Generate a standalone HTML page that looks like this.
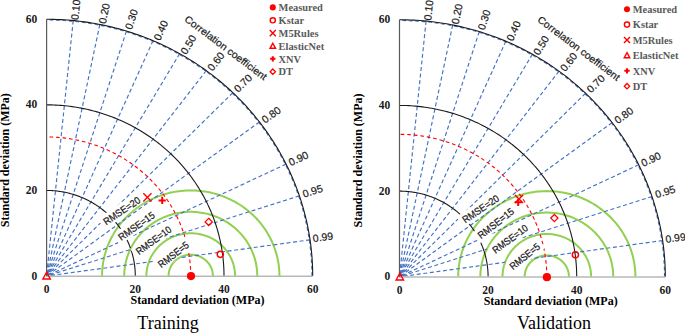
<!DOCTYPE html>
<html><head><meta charset="utf-8"><style>
html,body{margin:0;padding:0;background:#fff;}
svg{display:block;}
</style></head><body>
<svg width="685" height="333" viewBox="0 0 685 333">
<rect width="685" height="333" fill="#fff"/>
<path d="M212.91,276.05 L212.90,275.49 L212.88,274.93 L212.84,274.37 L212.79,273.81 L212.72,273.26 L212.64,272.70 L212.54,272.15 L212.43,271.60 L212.30,271.05 L212.16,270.51 L212.00,269.97 L211.83,269.44 L211.64,268.91 L211.44,268.38 L211.22,267.86 L211.00,267.35 L210.75,266.84 L210.50,266.33 L210.23,265.84 L209.94,265.35 L209.64,264.87 L209.34,264.39 L209.01,263.93 L208.68,263.47 L208.33,263.02 L207.97,262.58 L207.60,262.15 L207.22,261.73 L206.82,261.32 L206.42,260.92 L206.00,260.53 L205.58,260.15 L205.14,259.78 L204.69,259.42 L204.24,259.07 L203.77,258.74 L203.30,258.41 L202.81,258.10 L202.32,257.80 L201.82,257.52 L201.32,257.24 L200.80,256.98 L200.28,256.73 L199.76,256.50 L199.22,256.28 L198.68,256.07 L198.14,255.88 L197.59,255.70 L197.04,255.53 L196.48,255.38 L195.91,255.24 L195.35,255.12 L194.78,255.01 L194.21,254.91 L193.63,254.83 L193.06,254.77 L192.48,254.72 L191.90,254.68 L191.32,254.66 L190.74,254.65 L190.16,254.66 L189.58,254.68 L189.00,254.72 L188.42,254.77 L187.84,254.83 L187.27,254.91 L186.70,255.01 L186.13,255.12 L185.56,255.24 L185.00,255.38 L184.44,255.53 L183.89,255.70 L183.34,255.88 L182.79,256.07 L182.25,256.28 L181.72,256.50 L181.19,256.73 L180.67,256.98 L180.16,257.24 L179.65,257.52 L179.15,257.80 L178.66,258.10 L178.18,258.41 L177.70,258.74 L177.24,259.07 L176.78,259.42 L176.34,259.78 L175.90,260.15 L175.47,260.53 L175.06,260.92 L174.65,261.32 L174.26,261.73 L173.88,262.15 L173.50,262.58 L173.14,263.02 L172.80,263.47 L172.46,263.93 L172.14,264.39 L171.83,264.87 L171.53,265.35 L171.25,265.84 L170.98,266.33 L170.72,266.84 L170.48,267.35 L170.25,267.86 L170.04,268.38 L169.83,268.91 L169.65,269.44 L169.48,269.97 L169.32,270.51 L169.18,271.05 L169.05,271.60 L168.93,272.15 L168.84,272.70 L168.75,273.26 L168.68,273.81 L168.63,274.37 L168.59,274.93 L168.57,275.49 L168.56,276.05" fill="none" stroke="#92d050" stroke-width="2"/>
<path d="M235.09,276.05 L235.07,274.93 L235.03,273.81 L234.95,272.69 L234.84,271.58 L234.71,270.46 L234.54,269.35 L234.34,268.25 L234.12,267.15 L233.86,266.06 L233.58,264.97 L233.26,263.89 L232.92,262.82 L232.54,261.76 L232.14,260.71 L231.71,259.67 L231.25,258.64 L230.77,257.62 L230.25,256.62 L229.71,255.63 L229.15,254.65 L228.55,253.69 L227.93,252.74 L227.29,251.81 L226.62,250.89 L225.92,250.00 L225.20,249.12 L224.46,248.25 L223.70,247.41 L222.91,246.59 L222.10,245.79 L221.27,245.00 L220.41,244.24 L219.54,243.50 L218.65,242.79 L217.74,242.09 L216.81,241.42 L215.86,240.78 L214.89,240.15 L213.91,239.56 L212.91,238.98 L211.90,238.44 L210.87,237.91 L209.83,237.42 L208.78,236.95 L207.71,236.51 L206.63,236.09 L205.54,235.70 L204.44,235.34 L203.33,235.01 L202.22,234.71 L201.09,234.43 L199.96,234.19 L198.82,233.97 L197.68,233.78 L196.53,233.62 L195.37,233.48 L194.22,233.38 L193.06,233.31 L191.90,233.26 L190.74,233.25 L189.58,233.26 L188.42,233.31 L187.26,233.38 L186.10,233.48 L184.95,233.62 L183.80,233.78 L182.66,233.97 L181.52,234.19 L180.38,234.43 L179.26,234.71 L178.14,235.01 L177.03,235.34 L175.93,235.70 L174.84,236.09 L173.77,236.51 L172.70,236.95 L171.64,237.42 L170.60,237.91 L169.58,238.44 L168.56,238.98 L167.56,239.56 L166.58,240.15 L165.62,240.78 L164.67,241.42 L163.74,242.09 L162.83,242.79 L161.93,243.50 L161.06,244.24 L160.21,245.00 L159.38,245.79 L158.57,246.59 L157.78,247.41 L157.01,248.25 L156.27,249.12 L155.55,250.00 L154.86,250.89 L154.19,251.81 L153.54,252.74 L152.92,253.69 L152.33,254.65 L151.76,255.63 L151.22,256.62 L150.71,257.62 L150.22,258.64 L149.76,259.67 L149.33,260.71 L148.93,261.76 L148.56,262.82 L148.21,263.89 L147.90,264.97 L147.61,266.06 L147.36,267.15 L147.13,268.25 L146.93,269.35 L146.77,270.46 L146.63,271.58 L146.52,272.69 L146.45,273.81 L146.40,274.93 L146.39,276.05" fill="none" stroke="#92d050" stroke-width="2"/>
<path d="M257.26,276.05 L257.24,274.37 L257.17,272.69 L257.06,271.01 L256.90,269.34 L256.69,267.67 L256.44,266.01 L256.15,264.35 L255.81,262.70 L255.42,261.06 L255.00,259.43 L254.52,257.82 L254.01,256.21 L253.45,254.62 L252.84,253.04 L252.20,251.48 L251.51,249.94 L250.78,248.41 L250.01,246.90 L249.20,245.42 L248.35,243.95 L247.46,242.51 L246.53,241.08 L245.56,239.69 L244.56,238.31 L243.52,236.97 L242.44,235.65 L241.32,234.36 L240.18,233.09 L238.99,231.86 L237.78,230.65 L236.53,229.48 L235.25,228.34 L233.94,227.23 L232.60,226.16 L231.24,225.12 L229.84,224.11 L228.42,223.14 L226.97,222.21 L225.50,221.31 L224.00,220.45 L222.48,219.63 L220.94,218.85 L219.38,218.10 L217.80,217.40 L216.20,216.74 L214.58,216.11 L212.94,215.53 L211.29,214.99 L209.63,214.49 L207.96,214.04 L206.27,213.62 L204.57,213.25 L202.86,212.93 L201.14,212.64 L199.42,212.40 L197.69,212.20 L195.96,212.05 L194.22,211.94 L192.48,211.87 L190.74,211.85 L189.00,211.87 L187.26,211.94 L185.52,212.05 L183.78,212.20 L182.05,212.40 L180.33,212.64 L178.61,212.93 L176.91,213.25 L175.21,213.62 L173.52,214.04 L171.84,214.49 L170.18,214.99 L168.53,215.53 L166.90,216.11 L165.28,216.74 L163.68,217.40 L162.10,218.10 L160.54,218.85 L158.99,219.63 L157.47,220.45 L155.98,221.31 L154.51,222.21 L153.06,223.14 L151.64,224.11 L150.24,225.12 L148.87,226.16 L147.53,227.23 L146.22,228.34 L144.94,229.48 L143.70,230.65 L142.48,231.86 L141.30,233.09 L140.15,234.36 L139.04,235.65 L137.96,236.97 L136.92,238.31 L135.91,239.69 L134.94,241.08 L134.02,242.51 L133.13,243.95 L132.27,245.42 L131.46,246.90 L130.69,248.41 L129.96,249.94 L129.28,251.48 L128.63,253.04 L128.03,254.62 L127.47,256.21 L126.95,257.82 L126.48,259.43 L126.05,261.06 L125.67,262.70 L125.33,264.35 L125.03,266.01 L124.78,267.67 L124.58,269.34 L124.42,271.01 L124.30,272.69 L124.24,274.37 L124.21,276.05" fill="none" stroke="#92d050" stroke-width="2"/>
<path d="M279.44,276.05 L279.41,273.81 L279.32,271.57 L279.16,269.33 L278.95,267.10 L278.68,264.88 L278.35,262.66 L277.95,260.45 L277.50,258.25 L276.99,256.07 L276.42,253.90 L275.78,251.74 L275.10,249.60 L274.35,247.48 L273.55,245.37 L272.69,243.29 L271.77,241.23 L270.80,239.20 L269.77,237.19 L268.69,235.21 L267.55,233.25 L266.37,231.32 L265.13,229.43 L263.84,227.57 L262.50,225.74 L261.11,223.94 L259.67,222.18 L258.19,220.46 L256.65,218.77 L255.08,217.13 L253.46,215.52 L251.79,213.96 L250.09,212.44 L248.34,210.96 L246.56,209.53 L244.73,208.14 L242.87,206.80 L240.98,205.50 L239.05,204.26 L237.08,203.06 L235.09,201.92 L233.06,200.82 L231.01,199.78 L228.92,198.79 L226.82,197.85 L224.68,196.97 L222.52,196.14 L220.35,195.36 L218.15,194.64 L215.93,193.98 L213.69,193.37 L211.44,192.82 L209.18,192.32 L206.90,191.88 L204.61,191.50 L202.32,191.18 L200.01,190.92 L197.70,190.71 L195.38,190.57 L193.06,190.48 L190.74,190.45 L188.42,190.48 L186.10,190.57 L183.78,190.71 L181.47,190.92 L179.16,191.18 L176.86,191.50 L174.57,191.88 L172.30,192.32 L170.03,192.82 L167.78,193.37 L165.55,193.98 L163.33,194.64 L161.13,195.36 L158.95,196.14 L156.79,196.97 L154.66,197.85 L152.55,198.79 L150.47,199.78 L148.41,200.82 L146.39,201.92 L144.39,203.06 L142.43,204.26 L140.50,205.50 L138.60,206.80 L136.74,208.14 L134.92,209.53 L133.13,210.96 L131.39,212.44 L129.68,213.96 L128.02,215.52 L126.40,217.13 L124.82,218.77 L123.29,220.46 L121.80,222.18 L120.37,223.94 L118.98,225.74 L117.64,227.57 L116.35,229.43 L115.11,231.32 L113.92,233.25 L112.79,235.21 L111.71,237.19 L110.68,239.20 L109.71,241.23 L108.79,243.29 L107.93,245.37 L107.13,247.48 L106.38,249.60 L105.69,251.74 L105.06,253.90 L104.49,256.07 L103.98,258.25 L103.52,260.45 L103.13,262.66 L102.80,264.88 L102.52,267.10 L102.31,269.33 L102.16,271.57 L102.07,273.81 L102.04,276.05" fill="none" stroke="#92d050" stroke-width="2"/>
<line x1="73.21" y1="20.54" x2="46.60" y2="276.05" stroke="#4472c4" stroke-width="1.15" stroke-dasharray="4 2.6"/>
<line x1="99.82" y1="24.44" x2="46.60" y2="276.05" stroke="#4472c4" stroke-width="1.15" stroke-dasharray="4 2.6"/>
<line x1="126.43" y1="31.08" x2="46.60" y2="276.05" stroke="#4472c4" stroke-width="1.15" stroke-dasharray="4 2.6"/>
<line x1="153.04" y1="40.69" x2="46.60" y2="276.05" stroke="#4472c4" stroke-width="1.15" stroke-dasharray="4 2.6"/>
<line x1="179.65" y1="53.65" x2="46.60" y2="276.05" stroke="#4472c4" stroke-width="1.15" stroke-dasharray="4 2.6"/>
<line x1="206.26" y1="70.61" x2="46.60" y2="276.05" stroke="#4472c4" stroke-width="1.15" stroke-dasharray="4 2.6"/>
<line x1="232.87" y1="92.66" x2="46.60" y2="276.05" stroke="#4472c4" stroke-width="1.15" stroke-dasharray="4 2.6"/>
<line x1="259.48" y1="121.97" x2="46.60" y2="276.05" stroke="#4472c4" stroke-width="1.15" stroke-dasharray="4 2.6"/>
<line x1="286.09" y1="164.11" x2="46.60" y2="276.05" stroke="#4472c4" stroke-width="1.15" stroke-dasharray="4 2.6"/>
<line x1="299.39" y1="195.86" x2="46.60" y2="276.05" stroke="#4472c4" stroke-width="1.15" stroke-dasharray="4 2.6"/>
<line x1="310.04" y1="239.82" x2="46.60" y2="276.05" stroke="#4472c4" stroke-width="1.15" stroke-dasharray="4 2.6"/>
<path d="M311.90,276.05 L311.88,272.70 L311.81,269.35 L311.70,266.00 L311.54,262.65 L311.33,259.30 L311.08,255.96 L310.79,252.62 L310.45,249.29 L310.06,245.96 L309.63,242.63 L309.16,239.31 L308.64,236.00 L308.07,232.69 L307.46,229.39 L306.80,226.10 L306.10,222.82 L305.36,219.54 L304.57,216.28 L303.74,213.03 L302.86,209.78 L301.94,206.55 L300.98,203.33 L299.97,200.13 L298.92,196.93 L297.82,193.75 L296.68,190.59 L295.50,187.43 L294.28,184.30 L293.01,181.18 L291.71,178.07 L290.36,174.98 L288.97,171.91 L287.53,168.86 L286.06,165.83 L284.54,162.81 L282.99,159.81 L281.39,156.84 L279.75,153.88 L278.07,150.95 L276.36,148.04 L274.60,145.14 L272.81,142.27 L270.97,139.43 L269.10,136.61 L267.19,133.81 L265.24,131.03 L263.26,128.28 L261.23,125.56 L259.17,122.86 L257.08,120.19 L254.95,117.54 L252.78,114.93 L250.58,112.33 L248.34,109.77 L246.06,107.24 L243.76,104.73 L241.42,102.26 L239.04,99.81 L236.64,97.39 L234.20,95.01 L231.72,92.66 L229.22,90.33 L226.69,88.04 L224.12,85.78 L221.53,83.56 L218.90,81.36 L216.24,79.20 L213.56,77.08 L210.85,74.99 L208.11,72.93 L205.34,70.91 L202.54,68.92 L199.72,66.97 L196.87,65.05 L193.99,63.17 L191.09,61.33 L188.17,59.52 L185.22,57.75 L182.25,56.02 L179.25,54.32 L176.23,52.67 L173.19,51.05 L170.13,49.47 L167.04,47.93 L163.94,46.42 L160.82,44.96 L157.67,43.54 L154.51,42.16 L151.33,40.81 L148.13,39.51 L144.91,38.25 L141.68,37.03 L138.43,35.85 L135.16,34.71 L131.88,33.61 L128.58,32.55 L125.27,31.54 L121.95,30.56 L118.61,29.63 L115.27,28.74 L111.90,27.90 L108.53,27.09 L105.15,26.33 L101.76,25.62 L98.36,24.94 L94.95,24.31 L91.53,23.72 L88.10,23.17 L84.67,22.67 L81.23,22.21 L77.78,21.80 L74.33,21.42 L70.88,21.09 L67.42,20.81 L63.95,20.57 L60.48,20.37 L57.02,20.22 L53.54,20.11 L50.07,20.04 L46.60,20.02" fill="none" stroke="#4472c4" stroke-width="1.1" stroke-dasharray="3.7 2.8"/>
<path d="M135.30,276.05 L135.29,274.93 L135.27,273.81 L135.23,272.69 L135.18,271.57 L135.11,270.45 L135.03,269.33 L134.93,268.22 L134.81,267.10 L134.69,265.99 L134.54,264.88 L134.38,263.77 L134.21,262.66 L134.02,261.55 L133.81,260.45 L133.60,259.35 L133.36,258.25 L133.11,257.16 L132.85,256.07 L132.57,254.98 L132.28,253.90 L131.97,252.81 L131.65,251.74 L131.31,250.67 L130.96,249.60 L130.59,248.53 L130.21,247.48 L129.82,246.42 L129.41,245.37 L128.99,244.33 L128.55,243.29 L128.10,242.26 L127.63,241.23 L127.15,240.21 L126.66,239.20 L126.15,238.19 L125.63,237.19 L125.10,236.19 L124.55,235.21 L123.99,234.22 L123.42,233.25 L122.83,232.28 L122.23,231.32 L121.62,230.37 L120.99,229.43 L120.35,228.49 L119.70,227.57 L119.04,226.65 L118.36,225.74 L117.67,224.83 L116.97,223.94 L116.26,223.06 L115.53,222.18 L114.80,221.31 L114.05,220.46 L113.29,219.61 L112.52,218.77 L111.73,217.94 L110.94,217.13 L110.14,216.32 L109.32,215.52 L108.49,214.73 L107.66,213.96 L106.81,213.19 L105.95,212.44 L105.08,211.69 L104.21,210.96 L103.32,210.24 L102.42,209.53 L101.51,208.83 L100.60,208.14 L99.67,207.46 L98.74,206.80 L97.79,206.15 L96.84,205.50 L95.88,204.88 L94.91,204.26 L93.93,203.66 L92.95,203.06 L91.95,202.48 L90.95,201.92 L89.94,201.36 L88.92,200.82 L87.90,200.30 L86.87,199.78 L85.83,199.28 L84.79,198.79 L83.74,198.31 L82.68,197.85 L81.61,197.40 L80.54,196.97 L79.47,196.54 L78.39,196.14 L77.30,195.74 L76.21,195.36 L75.11,194.99 L74.01,194.64 L72.90,194.30 L71.79,193.98 L70.68,193.66 L69.56,193.37 L68.43,193.08 L67.31,192.82 L66.18,192.56 L65.04,192.32 L63.90,192.09 L62.76,191.88 L61.62,191.69 L60.48,191.50 L59.33,191.34 L58.18,191.18 L57.03,191.04 L55.87,190.92 L54.72,190.81 L53.56,190.71 L52.40,190.63 L51.24,190.57 L50.08,190.52 L48.92,190.48 L47.76,190.46 L46.60,190.45" fill="none" stroke="#1a1a1a" stroke-width="1.1"/>
<path d="M224.00,276.05 L223.98,273.81 L223.94,271.57 L223.86,269.33 L223.76,267.09 L223.62,264.85 L223.45,262.62 L223.26,260.38 L223.03,258.15 L222.77,255.93 L222.48,253.70 L222.16,251.48 L221.82,249.27 L221.44,247.06 L221.03,244.85 L220.59,242.65 L220.12,240.46 L219.63,238.27 L219.10,236.08 L218.54,233.91 L217.96,231.74 L217.34,229.58 L216.69,227.43 L216.02,225.28 L215.32,223.15 L214.59,221.02 L213.82,218.90 L213.04,216.79 L212.22,214.70 L211.37,212.61 L210.50,210.53 L209.59,208.47 L208.66,206.42 L207.70,204.38 L206.72,202.35 L205.71,200.33 L204.66,198.33 L203.60,196.34 L202.50,194.36 L201.38,192.40 L200.23,190.45 L199.06,188.52 L197.86,186.60 L196.63,184.70 L195.38,182.81 L194.10,180.94 L192.80,179.08 L191.47,177.24 L190.12,175.42 L188.74,173.62 L187.34,171.83 L185.92,170.06 L184.47,168.31 L182.99,166.58 L181.50,164.86 L179.98,163.17 L178.43,161.49 L176.87,159.84 L175.28,158.20 L173.67,156.59 L172.04,154.99 L170.39,153.42 L168.71,151.87 L167.02,150.33 L165.30,148.82 L163.57,147.34 L161.81,145.87 L160.04,144.42 L158.24,143.00 L156.43,141.60 L154.59,140.23 L152.74,138.88 L150.87,137.55 L148.99,136.24 L147.08,134.96 L145.16,133.70 L143.22,132.47 L141.26,131.26 L139.29,130.08 L137.30,128.92 L135.30,127.79 L133.28,126.68 L131.25,125.60 L129.20,124.54 L127.14,123.51 L125.06,122.51 L122.97,121.53 L120.87,120.58 L118.76,119.65 L116.63,118.75 L114.49,117.88 L112.34,117.04 L110.17,116.22 L108.00,115.43 L105.82,114.67 L103.62,113.94 L101.42,113.23 L99.21,112.55 L96.98,111.90 L94.75,111.28 L92.51,110.68 L90.27,110.12 L88.01,109.58 L85.75,109.07 L83.48,108.59 L81.21,108.14 L78.93,107.72 L76.64,107.32 L74.35,106.96 L72.06,106.62 L69.76,106.31 L67.45,106.04 L65.14,105.79 L62.83,105.57 L60.52,105.38 L58.20,105.22 L55.88,105.08 L53.56,104.98 L51.24,104.91 L48.92,104.86 L46.60,104.85" fill="none" stroke="#1a1a1a" stroke-width="1.1"/>
<path d="M312.70,276.05 L312.68,272.69 L312.61,269.33 L312.49,265.97 L312.34,262.61 L312.13,259.25 L311.88,255.90 L311.58,252.55 L311.24,249.21 L310.86,245.87 L310.42,242.53 L309.95,239.20 L309.42,235.88 L308.86,232.56 L308.24,229.25 L307.59,225.95 L306.89,222.66 L306.14,219.37 L305.35,216.10 L304.51,212.84 L303.63,209.59 L302.71,206.34 L301.74,203.11 L300.73,199.90 L299.68,196.69 L298.58,193.50 L297.44,190.33 L296.25,187.17 L295.03,184.02 L293.76,180.89 L292.44,177.78 L291.09,174.68 L289.69,171.60 L288.26,168.54 L286.78,165.49 L285.26,162.47 L283.70,159.47 L282.10,156.48 L280.45,153.52 L278.77,150.57 L277.05,147.65 L275.29,144.75 L273.49,141.87 L271.65,139.02 L269.77,136.19 L267.85,133.38 L265.90,130.60 L263.91,127.84 L261.88,125.11 L259.81,122.40 L257.71,119.72 L255.57,117.07 L253.40,114.44 L251.19,111.84 L248.94,109.27 L246.66,106.73 L244.35,104.22 L242.00,101.73 L239.62,99.28 L237.21,96.86 L234.76,94.46 L232.28,92.10 L229.77,89.77 L227.23,87.48 L224.66,85.21 L222.05,82.98 L219.42,80.78 L216.75,78.61 L214.06,76.48 L211.34,74.38 L208.59,72.32 L205.81,70.29 L203.01,68.29 L200.18,66.34 L197.32,64.41 L194.44,62.53 L191.53,60.68 L188.59,58.87 L185.64,57.09 L182.66,55.35 L179.65,53.65 L176.62,51.99 L173.57,50.37 L170.50,48.79 L167.41,47.24 L164.29,45.73 L161.16,44.27 L158.01,42.84 L154.83,41.45 L151.64,40.10 L148.43,38.80 L145.21,37.53 L141.96,36.31 L138.70,35.12 L135.43,33.98 L132.14,32.88 L128.83,31.82 L125.51,30.80 L122.18,29.83 L118.83,28.89 L115.47,28.00 L112.10,27.15 L108.72,26.35 L105.33,25.58 L101.93,24.86 L98.51,24.18 L95.09,23.55 L91.66,22.96 L88.23,22.41 L84.78,21.91 L81.33,21.45 L77.88,21.03 L74.42,20.66 L70.95,20.33 L67.48,20.04 L64.00,19.80 L60.53,19.60 L57.05,19.45 L53.57,19.34 L50.08,19.27 L46.60,19.25" fill="none" stroke="#1a1a1a" stroke-width="1.1"/>
<path d="M190.74,276.05 L190.73,274.23 L190.69,272.41 L190.63,270.59 L190.54,268.77 L190.43,266.95 L190.29,265.14 L190.13,263.32 L189.95,261.51 L189.74,259.70 L189.50,257.89 L189.25,256.09 L188.96,254.29 L188.66,252.49 L188.32,250.70 L187.97,248.91 L187.59,247.13 L187.18,245.35 L186.75,243.58 L186.30,241.81 L185.83,240.05 L185.33,238.29 L184.80,236.54 L184.25,234.80 L183.68,233.07 L183.09,231.34 L182.47,229.62 L181.83,227.91 L181.16,226.20 L180.48,224.51 L179.77,222.82 L179.03,221.14 L178.28,219.47 L177.50,217.81 L176.70,216.17 L175.87,214.53 L175.03,212.90 L174.16,211.28 L173.27,209.68 L172.36,208.08 L171.43,206.50 L170.47,204.93 L169.50,203.37 L168.50,201.82 L167.48,200.29 L166.45,198.77 L165.39,197.26 L164.31,195.77 L163.21,194.29 L162.09,192.82 L160.95,191.37 L159.79,189.93 L158.62,188.51 L157.42,187.10 L156.20,185.71 L154.97,184.33 L153.72,182.97 L152.44,181.63 L151.15,180.30 L149.85,178.99 L148.52,177.69 L147.18,176.41 L145.82,175.15 L144.44,173.91 L143.05,172.68 L141.64,171.47 L140.21,170.28 L138.77,169.10 L137.31,167.95 L135.83,166.81 L134.35,165.69 L132.84,164.60 L131.32,163.52 L129.79,162.46 L128.24,161.41 L126.68,160.39 L125.10,159.39 L123.51,158.41 L121.91,157.45 L120.30,156.51 L118.67,155.59 L117.03,154.69 L115.38,153.81 L113.71,152.95 L112.04,152.11 L110.35,151.30 L108.65,150.50 L106.94,149.73 L105.23,148.98 L103.50,148.25 L101.76,147.54 L100.01,146.85 L98.25,146.19 L96.49,145.55 L94.71,144.93 L92.93,144.33 L91.14,143.76 L89.34,143.21 L87.54,142.68 L85.72,142.17 L83.91,141.69 L82.08,141.23 L80.25,140.79 L78.41,140.38 L76.57,139.99 L74.72,139.62 L72.87,139.28 L71.01,138.96 L69.15,138.66 L67.28,138.39 L65.41,138.14 L63.54,137.91 L61.67,137.71 L59.79,137.53 L57.91,137.38 L56.03,137.25 L54.14,137.14 L52.26,137.06 L50.37,137.00 L48.49,136.96 L46.60,136.95" fill="none" stroke="#ff0000" stroke-width="1.1" stroke-dasharray="3.7 2.85" stroke-dashoffset="0.21"/>
<line x1="46.60" y1="276.25" x2="312.70" y2="276.25" stroke="#b8b8b8" stroke-width="1.4"/>
<line x1="46.60" y1="276.05" x2="46.60" y2="19.25" stroke="#595959" stroke-width="1.2"/>
<rect fill="#fff" x="-3.5" y="-10.5" width="49.0" height="13" transform="translate(106.3 225.5) rotate(-34)"/>
<rect fill="#fff" x="-3.5" y="-10.5" width="49.0" height="13" transform="translate(121.3 241) rotate(-35)"/>
<rect fill="#fff" x="-3.5" y="-10.5" width="48.2" height="13" transform="translate(139.0 255.3) rotate(-36)"/>
<rect fill="#fff" x="-3.5" y="-10.5" width="42.8" height="13" transform="translate(161.3 268.3) rotate(-37.5)"/>
<clipPath id="cl"><rect x="-3.5" y="-10.5" width="49.0" height="13" transform="translate(106.3 225.5) rotate(-34)"/><rect x="-3.5" y="-10.5" width="49.0" height="13" transform="translate(121.3 241) rotate(-35)"/><rect x="-3.5" y="-10.5" width="48.2" height="13" transform="translate(139.0 255.3) rotate(-36)"/><rect x="-3.5" y="-10.5" width="42.8" height="13" transform="translate(161.3 268.3) rotate(-37.5)"/></clipPath>
<g clip-path="url(#cl)">
<path d="M212.91,276.05 L212.90,275.49 L212.88,274.93 L212.84,274.37 L212.79,273.81 L212.72,273.26 L212.64,272.70 L212.54,272.15 L212.43,271.60 L212.30,271.05 L212.16,270.51 L212.00,269.97 L211.83,269.44 L211.64,268.91 L211.44,268.38 L211.22,267.86 L211.00,267.35 L210.75,266.84 L210.50,266.33 L210.23,265.84 L209.94,265.35 L209.64,264.87 L209.34,264.39 L209.01,263.93 L208.68,263.47 L208.33,263.02 L207.97,262.58 L207.60,262.15 L207.22,261.73 L206.82,261.32 L206.42,260.92 L206.00,260.53 L205.58,260.15 L205.14,259.78 L204.69,259.42 L204.24,259.07 L203.77,258.74 L203.30,258.41 L202.81,258.10 L202.32,257.80 L201.82,257.52 L201.32,257.24 L200.80,256.98 L200.28,256.73 L199.76,256.50 L199.22,256.28 L198.68,256.07 L198.14,255.88 L197.59,255.70 L197.04,255.53 L196.48,255.38 L195.91,255.24 L195.35,255.12 L194.78,255.01 L194.21,254.91 L193.63,254.83 L193.06,254.77 L192.48,254.72 L191.90,254.68 L191.32,254.66 L190.74,254.65 L190.16,254.66 L189.58,254.68 L189.00,254.72 L188.42,254.77 L187.84,254.83 L187.27,254.91 L186.70,255.01 L186.13,255.12 L185.56,255.24 L185.00,255.38 L184.44,255.53 L183.89,255.70 L183.34,255.88 L182.79,256.07 L182.25,256.28 L181.72,256.50 L181.19,256.73 L180.67,256.98 L180.16,257.24 L179.65,257.52 L179.15,257.80 L178.66,258.10 L178.18,258.41 L177.70,258.74 L177.24,259.07 L176.78,259.42 L176.34,259.78 L175.90,260.15 L175.47,260.53 L175.06,260.92 L174.65,261.32 L174.26,261.73 L173.88,262.15 L173.50,262.58 L173.14,263.02 L172.80,263.47 L172.46,263.93 L172.14,264.39 L171.83,264.87 L171.53,265.35 L171.25,265.84 L170.98,266.33 L170.72,266.84 L170.48,267.35 L170.25,267.86 L170.04,268.38 L169.83,268.91 L169.65,269.44 L169.48,269.97 L169.32,270.51 L169.18,271.05 L169.05,271.60 L168.93,272.15 L168.84,272.70 L168.75,273.26 L168.68,273.81 L168.63,274.37 L168.59,274.93 L168.57,275.49 L168.56,276.05" fill="none" stroke="#92d050" stroke-width="2"/>
<path d="M235.09,276.05 L235.07,274.93 L235.03,273.81 L234.95,272.69 L234.84,271.58 L234.71,270.46 L234.54,269.35 L234.34,268.25 L234.12,267.15 L233.86,266.06 L233.58,264.97 L233.26,263.89 L232.92,262.82 L232.54,261.76 L232.14,260.71 L231.71,259.67 L231.25,258.64 L230.77,257.62 L230.25,256.62 L229.71,255.63 L229.15,254.65 L228.55,253.69 L227.93,252.74 L227.29,251.81 L226.62,250.89 L225.92,250.00 L225.20,249.12 L224.46,248.25 L223.70,247.41 L222.91,246.59 L222.10,245.79 L221.27,245.00 L220.41,244.24 L219.54,243.50 L218.65,242.79 L217.74,242.09 L216.81,241.42 L215.86,240.78 L214.89,240.15 L213.91,239.56 L212.91,238.98 L211.90,238.44 L210.87,237.91 L209.83,237.42 L208.78,236.95 L207.71,236.51 L206.63,236.09 L205.54,235.70 L204.44,235.34 L203.33,235.01 L202.22,234.71 L201.09,234.43 L199.96,234.19 L198.82,233.97 L197.68,233.78 L196.53,233.62 L195.37,233.48 L194.22,233.38 L193.06,233.31 L191.90,233.26 L190.74,233.25 L189.58,233.26 L188.42,233.31 L187.26,233.38 L186.10,233.48 L184.95,233.62 L183.80,233.78 L182.66,233.97 L181.52,234.19 L180.38,234.43 L179.26,234.71 L178.14,235.01 L177.03,235.34 L175.93,235.70 L174.84,236.09 L173.77,236.51 L172.70,236.95 L171.64,237.42 L170.60,237.91 L169.58,238.44 L168.56,238.98 L167.56,239.56 L166.58,240.15 L165.62,240.78 L164.67,241.42 L163.74,242.09 L162.83,242.79 L161.93,243.50 L161.06,244.24 L160.21,245.00 L159.38,245.79 L158.57,246.59 L157.78,247.41 L157.01,248.25 L156.27,249.12 L155.55,250.00 L154.86,250.89 L154.19,251.81 L153.54,252.74 L152.92,253.69 L152.33,254.65 L151.76,255.63 L151.22,256.62 L150.71,257.62 L150.22,258.64 L149.76,259.67 L149.33,260.71 L148.93,261.76 L148.56,262.82 L148.21,263.89 L147.90,264.97 L147.61,266.06 L147.36,267.15 L147.13,268.25 L146.93,269.35 L146.77,270.46 L146.63,271.58 L146.52,272.69 L146.45,273.81 L146.40,274.93 L146.39,276.05" fill="none" stroke="#92d050" stroke-width="2"/>
<path d="M257.26,276.05 L257.24,274.37 L257.17,272.69 L257.06,271.01 L256.90,269.34 L256.69,267.67 L256.44,266.01 L256.15,264.35 L255.81,262.70 L255.42,261.06 L255.00,259.43 L254.52,257.82 L254.01,256.21 L253.45,254.62 L252.84,253.04 L252.20,251.48 L251.51,249.94 L250.78,248.41 L250.01,246.90 L249.20,245.42 L248.35,243.95 L247.46,242.51 L246.53,241.08 L245.56,239.69 L244.56,238.31 L243.52,236.97 L242.44,235.65 L241.32,234.36 L240.18,233.09 L238.99,231.86 L237.78,230.65 L236.53,229.48 L235.25,228.34 L233.94,227.23 L232.60,226.16 L231.24,225.12 L229.84,224.11 L228.42,223.14 L226.97,222.21 L225.50,221.31 L224.00,220.45 L222.48,219.63 L220.94,218.85 L219.38,218.10 L217.80,217.40 L216.20,216.74 L214.58,216.11 L212.94,215.53 L211.29,214.99 L209.63,214.49 L207.96,214.04 L206.27,213.62 L204.57,213.25 L202.86,212.93 L201.14,212.64 L199.42,212.40 L197.69,212.20 L195.96,212.05 L194.22,211.94 L192.48,211.87 L190.74,211.85 L189.00,211.87 L187.26,211.94 L185.52,212.05 L183.78,212.20 L182.05,212.40 L180.33,212.64 L178.61,212.93 L176.91,213.25 L175.21,213.62 L173.52,214.04 L171.84,214.49 L170.18,214.99 L168.53,215.53 L166.90,216.11 L165.28,216.74 L163.68,217.40 L162.10,218.10 L160.54,218.85 L158.99,219.63 L157.47,220.45 L155.98,221.31 L154.51,222.21 L153.06,223.14 L151.64,224.11 L150.24,225.12 L148.87,226.16 L147.53,227.23 L146.22,228.34 L144.94,229.48 L143.70,230.65 L142.48,231.86 L141.30,233.09 L140.15,234.36 L139.04,235.65 L137.96,236.97 L136.92,238.31 L135.91,239.69 L134.94,241.08 L134.02,242.51 L133.13,243.95 L132.27,245.42 L131.46,246.90 L130.69,248.41 L129.96,249.94 L129.28,251.48 L128.63,253.04 L128.03,254.62 L127.47,256.21 L126.95,257.82 L126.48,259.43 L126.05,261.06 L125.67,262.70 L125.33,264.35 L125.03,266.01 L124.78,267.67 L124.58,269.34 L124.42,271.01 L124.30,272.69 L124.24,274.37 L124.21,276.05" fill="none" stroke="#92d050" stroke-width="2"/>
<path d="M279.44,276.05 L279.41,273.81 L279.32,271.57 L279.16,269.33 L278.95,267.10 L278.68,264.88 L278.35,262.66 L277.95,260.45 L277.50,258.25 L276.99,256.07 L276.42,253.90 L275.78,251.74 L275.10,249.60 L274.35,247.48 L273.55,245.37 L272.69,243.29 L271.77,241.23 L270.80,239.20 L269.77,237.19 L268.69,235.21 L267.55,233.25 L266.37,231.32 L265.13,229.43 L263.84,227.57 L262.50,225.74 L261.11,223.94 L259.67,222.18 L258.19,220.46 L256.65,218.77 L255.08,217.13 L253.46,215.52 L251.79,213.96 L250.09,212.44 L248.34,210.96 L246.56,209.53 L244.73,208.14 L242.87,206.80 L240.98,205.50 L239.05,204.26 L237.08,203.06 L235.09,201.92 L233.06,200.82 L231.01,199.78 L228.92,198.79 L226.82,197.85 L224.68,196.97 L222.52,196.14 L220.35,195.36 L218.15,194.64 L215.93,193.98 L213.69,193.37 L211.44,192.82 L209.18,192.32 L206.90,191.88 L204.61,191.50 L202.32,191.18 L200.01,190.92 L197.70,190.71 L195.38,190.57 L193.06,190.48 L190.74,190.45 L188.42,190.48 L186.10,190.57 L183.78,190.71 L181.47,190.92 L179.16,191.18 L176.86,191.50 L174.57,191.88 L172.30,192.32 L170.03,192.82 L167.78,193.37 L165.55,193.98 L163.33,194.64 L161.13,195.36 L158.95,196.14 L156.79,196.97 L154.66,197.85 L152.55,198.79 L150.47,199.78 L148.41,200.82 L146.39,201.92 L144.39,203.06 L142.43,204.26 L140.50,205.50 L138.60,206.80 L136.74,208.14 L134.92,209.53 L133.13,210.96 L131.39,212.44 L129.68,213.96 L128.02,215.52 L126.40,217.13 L124.82,218.77 L123.29,220.46 L121.80,222.18 L120.37,223.94 L118.98,225.74 L117.64,227.57 L116.35,229.43 L115.11,231.32 L113.92,233.25 L112.79,235.21 L111.71,237.19 L110.68,239.20 L109.71,241.23 L108.79,243.29 L107.93,245.37 L107.13,247.48 L106.38,249.60 L105.69,251.74 L105.06,253.90 L104.49,256.07 L103.98,258.25 L103.52,260.45 L103.13,262.66 L102.80,264.88 L102.52,267.10 L102.31,269.33 L102.16,271.57 L102.07,273.81 L102.04,276.05" fill="none" stroke="#92d050" stroke-width="2"/>
</g>
<text transform="translate(106.3 225.5) rotate(-34)" x="0" y="0" font-family="'Liberation Sans', sans-serif" font-size="10" fill="#1a1a1a" stroke="#1a1a1a" stroke-width="0.25" textLength="42.0" lengthAdjust="spacingAndGlyphs">RMSE=20</text>
<text transform="translate(121.3 241) rotate(-35)" x="0" y="0" font-family="'Liberation Sans', sans-serif" font-size="10" fill="#1a1a1a" stroke="#1a1a1a" stroke-width="0.25" textLength="42.0" lengthAdjust="spacingAndGlyphs">RMSE=15</text>
<text transform="translate(139.0 255.3) rotate(-36)" x="0" y="0" font-family="'Liberation Sans', sans-serif" font-size="10" fill="#1a1a1a" stroke="#1a1a1a" stroke-width="0.25" textLength="41.2" lengthAdjust="spacingAndGlyphs">RMSE=10</text>
<text transform="translate(161.3 268.3) rotate(-37.5)" x="0" y="0" font-family="'Liberation Sans', sans-serif" font-size="10" fill="#1a1a1a" stroke="#1a1a1a" stroke-width="0.25" textLength="35.8" lengthAdjust="spacingAndGlyphs">RMSE=5</text>
<text x="74.60" y="19.85" transform="rotate(-84.05 74.60 19.85)" font-family="'Liberation Sans', sans-serif" font-size="10.5" fill="#1a1a1a" stroke="#1a1a1a" stroke-width="0.2" dy="3.7">0.10</text>
<text x="102.02" y="23.41" transform="rotate(-78.06 102.02 23.41)" font-family="'Liberation Sans', sans-serif" font-size="10.5" fill="#1a1a1a" stroke="#1a1a1a" stroke-width="0.2" dy="3.7">0.20</text>
<text x="128.22" y="28.99" transform="rotate(-71.95 128.22 28.99)" font-family="'Liberation Sans', sans-serif" font-size="10.5" fill="#1a1a1a" stroke="#1a1a1a" stroke-width="0.2" dy="3.7">0.30</text>
<text x="156.54" y="39.62" transform="rotate(-65.67 156.54 39.62)" font-family="'Liberation Sans', sans-serif" font-size="10.5" fill="#1a1a1a" stroke="#1a1a1a" stroke-width="0.2" dy="3.7">0.40</text>
<text x="183.11" y="53.47" transform="rotate(-59.11 183.11 53.47)" font-family="'Liberation Sans', sans-serif" font-size="10.5" fill="#1a1a1a" stroke="#1a1a1a" stroke-width="0.2" dy="3.7">0.50</text>
<text x="209.70" y="69.50" transform="rotate(-52.15 209.70 69.50)" font-family="'Liberation Sans', sans-serif" font-size="10.5" fill="#1a1a1a" stroke="#1a1a1a" stroke-width="0.2" dy="3.7">0.60</text>
<text x="235.77" y="90.28" transform="rotate(-44.55 235.77 90.28)" font-family="'Liberation Sans', sans-serif" font-size="10.5" fill="#1a1a1a" stroke="#1a1a1a" stroke-width="0.2" dy="3.7">0.70</text>
<text x="262.96" y="120.72" transform="rotate(-35.90 262.96 120.72)" font-family="'Liberation Sans', sans-serif" font-size="10.5" fill="#1a1a1a" stroke="#1a1a1a" stroke-width="0.2" dy="3.7">0.80</text>
<text x="289.17" y="162.91" transform="rotate(-25.05 289.17 162.91)" font-family="'Liberation Sans', sans-serif" font-size="10.5" fill="#1a1a1a" stroke="#1a1a1a" stroke-width="0.2" dy="3.7">0.90</text>
<text x="302.90" y="194.12" transform="rotate(-17.60 302.90 194.12)" font-family="'Liberation Sans', sans-serif" font-size="10.5" fill="#1a1a1a" stroke="#1a1a1a" stroke-width="0.2" dy="3.7">0.95</text>
<text x="312.85" y="238.51" transform="rotate(-7.83 312.85 238.51)" font-family="'Liberation Sans', sans-serif" font-size="10.5" fill="#1a1a1a" stroke="#1a1a1a" stroke-width="0.2" dy="3.7">0.99</text>
<text x="223.8" y="50.5" transform="rotate(37 223.8 50.5)" font-family="'Liberation Sans', sans-serif" font-size="10" fill="#1a1a1a" stroke="#1a1a1a" stroke-width="0.2" text-anchor="middle" textLength="100" lengthAdjust="spacingAndGlyphs">Correlation coefficient</text>
<text x="37.30" y="279.55" text-anchor="end" font-family="'Liberation Serif', serif" font-weight="bold" font-size="11.5" fill="#1a1a1a">0</text>
<text x="37.30" y="193.95" text-anchor="end" font-family="'Liberation Serif', serif" font-weight="bold" font-size="11.5" fill="#1a1a1a">20</text>
<text x="37.30" y="108.35" text-anchor="end" font-family="'Liberation Serif', serif" font-weight="bold" font-size="11.5" fill="#1a1a1a">40</text>
<text x="37.30" y="22.75" text-anchor="end" font-family="'Liberation Serif', serif" font-weight="bold" font-size="11.5" fill="#1a1a1a">60</text>
<text x="46.60" y="292.85" text-anchor="middle" font-family="'Liberation Serif', serif" font-weight="bold" font-size="11.5" fill="#1a1a1a">0</text>
<text x="135.30" y="292.85" text-anchor="middle" font-family="'Liberation Serif', serif" font-weight="bold" font-size="11.5" fill="#1a1a1a">20</text>
<text x="224.00" y="292.85" text-anchor="middle" font-family="'Liberation Serif', serif" font-weight="bold" font-size="11.5" fill="#1a1a1a">40</text>
<text x="312.70" y="292.85" text-anchor="middle" font-family="'Liberation Serif', serif" font-weight="bold" font-size="11.5" fill="#1a1a1a">60</text>
<text x="197.5" y="304" text-anchor="middle" font-family="'Liberation Serif', serif" font-weight="bold" font-size="12" fill="#000">Standard deviation (MPa)</text>
<text x="9.3" y="160.2" transform="rotate(-90 9.3 160.2)" text-anchor="middle" font-family="'Liberation Serif', serif" font-weight="bold" font-size="12" fill="#000">Standard deviation (MPa)</text>
<text x="168" y="328.9" text-anchor="middle" font-family="'Liberation Serif', serif" font-size="18" fill="#000">Training</text>
<circle cx="272.80" cy="7.40" r="3.03" fill="#ff0000"/>
<text x="278.6" y="11.10" font-family="'Liberation Serif', serif" font-weight="bold" font-size="10.4" fill="#595959">Measured</text>
<circle cx="272.80" cy="20.26" r="2.60" fill="none" stroke="#ff0000" stroke-width="1.45"/>
<text x="278.6" y="23.96" font-family="'Liberation Serif', serif" font-weight="bold" font-size="10.4" fill="#595959">Kstar</text>
<path d="M269.77,30.09 L275.83,36.15 M269.77,36.15 L275.83,30.09" stroke="#ff0000" stroke-width="1.4"/>
<text x="278.6" y="36.82" font-family="'Liberation Serif', serif" font-weight="bold" font-size="10.4" fill="#595959">M5Rules</text>
<path d="M272.80,43.24 L275.54,48.31 L270.06,48.31 Z" fill="none" stroke="#ff0000" stroke-width="1.4" stroke-linejoin="miter"/>
<text x="278.6" y="49.68" font-family="'Liberation Serif', serif" font-weight="bold" font-size="10.4" fill="#595959">ElasticNet</text>
<path d="M270.14,58.84 L275.46,58.84 M272.80,56.18 L272.80,61.50" stroke="#ff0000" stroke-width="2"/>
<text x="278.6" y="62.54" font-family="'Liberation Serif', serif" font-weight="bold" font-size="10.4" fill="#595959">XNV</text>
<path d="M272.80,69.04 L275.46,71.70 L272.80,74.36 L270.14,71.70 Z" fill="none" stroke="#ff0000" stroke-width="1.3"/>
<text x="278.6" y="75.40" font-family="'Liberation Serif', serif" font-weight="bold" font-size="10.4" fill="#595959">DT</text>
<circle cx="191.00" cy="276.05" r="4.10" fill="#ff0000"/>
<circle cx="220.30" cy="254.30" r="3.10" fill="none" stroke="#ff0000" stroke-width="1.45"/>
<path d="M143.30,193.30 L151.50,201.50 M143.30,201.50 L151.50,193.30" stroke="#ff0000" stroke-width="1.4"/>
<path d="M46.60,272.20 L50.30,279.04 L42.90,279.04 Z" fill="none" stroke="#ff0000" stroke-width="1.4" stroke-linejoin="miter"/>
<path d="M158.60,200.40 L165.80,200.40 M162.20,196.80 L162.20,204.00" stroke="#ff0000" stroke-width="2"/>
<path d="M208.70,218.30 L212.30,221.90 L208.70,225.50 L205.10,221.90 Z" fill="none" stroke="#ff0000" stroke-width="1.3"/>
<path d="M568.95,276.80 L568.94,276.24 L568.92,275.68 L568.88,275.12 L568.83,274.56 L568.76,274.00 L568.67,273.45 L568.58,272.90 L568.46,272.35 L568.34,271.80 L568.19,271.26 L568.04,270.72 L567.86,270.18 L567.68,269.65 L567.48,269.12 L567.26,268.60 L567.03,268.09 L566.79,267.58 L566.53,267.08 L566.26,266.58 L565.98,266.09 L565.68,265.61 L565.37,265.13 L565.05,264.67 L564.72,264.21 L564.37,263.76 L564.01,263.32 L563.64,262.89 L563.26,262.47 L562.86,262.06 L562.46,261.65 L562.04,261.26 L561.62,260.88 L561.18,260.51 L560.74,260.15 L560.28,259.81 L559.82,259.47 L559.34,259.15 L558.86,258.84 L558.37,258.54 L557.87,258.25 L557.37,257.98 L556.85,257.71 L556.33,257.47 L555.81,257.23 L555.27,257.01 L554.74,256.80 L554.19,256.61 L553.64,256.43 L553.09,256.26 L552.53,256.11 L551.97,255.97 L551.40,255.85 L550.83,255.74 L550.26,255.64 L549.69,255.56 L549.11,255.50 L548.54,255.45 L547.96,255.41 L547.38,255.39 L546.80,255.38 L546.22,255.39 L545.64,255.41 L545.06,255.45 L544.48,255.50 L543.91,255.56 L543.33,255.64 L542.76,255.74 L542.19,255.85 L541.63,255.97 L541.06,256.11 L540.51,256.26 L539.95,256.43 L539.40,256.61 L538.86,256.80 L538.32,257.01 L537.79,257.23 L537.26,257.47 L536.74,257.71 L536.23,257.98 L535.72,258.25 L535.22,258.54 L534.73,258.84 L534.25,259.15 L533.78,259.47 L533.31,259.81 L532.86,260.15 L532.41,260.51 L531.98,260.88 L531.55,261.26 L531.14,261.65 L530.73,262.06 L530.34,262.47 L529.95,262.89 L529.58,263.32 L529.22,263.76 L528.88,264.21 L528.54,264.67 L528.22,265.13 L527.91,265.61 L527.62,266.09 L527.33,266.58 L527.06,267.08 L526.81,267.58 L526.56,268.09 L526.33,268.60 L526.12,269.12 L525.92,269.65 L525.73,270.18 L525.56,270.72 L525.40,271.26 L525.26,271.80 L525.13,272.35 L525.02,272.90 L524.92,273.45 L524.84,274.00 L524.77,274.56 L524.72,275.12 L524.68,275.68 L524.66,276.24 L524.65,276.80" fill="none" stroke="#92d050" stroke-width="2"/>
<path d="M591.10,276.80 L591.08,275.68 L591.04,274.56 L590.96,273.44 L590.85,272.32 L590.72,271.21 L590.55,270.10 L590.36,268.99 L590.13,267.89 L589.87,266.80 L589.59,265.71 L589.27,264.63 L588.93,263.56 L588.56,262.50 L588.16,261.45 L587.73,260.41 L587.27,259.38 L586.78,258.36 L586.27,257.35 L585.73,256.36 L585.16,255.38 L584.57,254.42 L583.95,253.47 L583.31,252.54 L582.64,251.62 L581.94,250.72 L581.23,249.84 L580.48,248.98 L579.72,248.13 L578.93,247.31 L578.12,246.51 L577.29,245.72 L576.44,244.96 L575.57,244.22 L574.68,243.51 L573.77,242.81 L572.84,242.14 L571.89,241.49 L570.93,240.87 L569.94,240.27 L568.95,239.70 L567.94,239.15 L566.91,238.63 L565.87,238.13 L564.82,237.66 L563.75,237.22 L562.67,236.81 L561.59,236.42 L560.49,236.06 L559.38,235.72 L558.26,235.42 L557.14,235.14 L556.01,234.90 L554.87,234.68 L553.73,234.49 L552.58,234.33 L551.43,234.19 L550.27,234.09 L549.12,234.02 L547.96,233.97 L546.80,233.96 L545.64,233.97 L544.48,234.02 L543.32,234.09 L542.17,234.19 L541.02,234.33 L539.87,234.49 L538.72,234.68 L537.59,234.90 L536.46,235.14 L535.33,235.42 L534.22,235.72 L533.11,236.06 L532.01,236.42 L530.92,236.81 L529.84,237.22 L528.78,237.66 L527.73,238.13 L526.69,238.63 L525.66,239.15 L524.65,239.70 L523.65,240.27 L522.67,240.87 L521.71,241.49 L520.76,242.14 L519.83,242.81 L518.92,243.51 L518.03,244.22 L517.16,244.96 L516.30,245.72 L515.47,246.51 L514.66,247.31 L513.88,248.13 L513.11,248.98 L512.37,249.84 L511.65,250.72 L510.96,251.62 L510.29,252.54 L509.64,253.47 L509.03,254.42 L508.43,255.38 L507.87,256.36 L507.33,257.35 L506.81,258.36 L506.33,259.38 L505.87,260.41 L505.44,261.45 L505.04,262.50 L504.67,263.56 L504.32,264.63 L504.01,265.71 L503.72,266.80 L503.47,267.89 L503.24,268.99 L503.04,270.10 L502.88,271.21 L502.74,272.32 L502.63,273.44 L502.56,274.56 L502.51,275.68 L502.50,276.80" fill="none" stroke="#92d050" stroke-width="2"/>
<path d="M613.25,276.80 L613.22,275.12 L613.16,273.44 L613.04,271.76 L612.88,270.08 L612.68,268.41 L612.43,266.75 L612.13,265.09 L611.80,263.44 L611.41,261.80 L610.98,260.17 L610.51,258.55 L610.00,256.94 L609.44,255.35 L608.83,253.77 L608.19,252.21 L607.50,250.66 L606.77,249.14 L606.00,247.63 L605.19,246.14 L604.34,244.67 L603.46,243.22 L602.53,241.80 L601.56,240.40 L600.56,239.03 L599.52,237.68 L598.44,236.36 L597.33,235.07 L596.18,233.80 L595.00,232.57 L593.78,231.36 L592.54,230.19 L591.26,229.05 L589.95,227.94 L588.62,226.86 L587.25,225.82 L585.86,224.81 L584.44,223.84 L582.99,222.91 L581.52,222.01 L580.02,221.15 L578.50,220.33 L576.97,219.54 L575.40,218.80 L573.83,218.10 L572.23,217.43 L570.61,216.81 L568.98,216.23 L567.33,215.69 L565.67,215.19 L564.00,214.73 L562.31,214.32 L560.61,213.94 L558.91,213.62 L557.19,213.33 L555.47,213.09 L553.74,212.89 L552.01,212.74 L550.28,212.63 L548.54,212.56 L546.80,212.54 L545.06,212.56 L543.32,212.63 L541.58,212.74 L539.85,212.89 L538.12,213.09 L536.40,213.33 L534.69,213.62 L532.98,213.94 L531.29,214.32 L529.60,214.73 L527.92,215.19 L526.26,215.69 L524.62,216.23 L522.98,216.81 L521.37,217.43 L519.77,218.10 L518.19,218.80 L516.63,219.54 L515.09,220.33 L513.57,221.15 L512.08,222.01 L510.61,222.91 L509.16,223.84 L507.74,224.81 L506.35,225.82 L504.98,226.86 L503.64,227.94 L502.33,229.05 L501.06,230.19 L499.81,231.36 L498.60,232.57 L497.42,233.80 L496.27,235.07 L495.16,236.36 L494.08,237.68 L493.04,239.03 L492.03,240.40 L491.07,241.80 L490.14,243.22 L489.25,244.67 L488.40,246.14 L487.59,247.63 L486.82,249.14 L486.09,250.66 L485.41,252.21 L484.76,253.77 L484.16,255.35 L483.60,256.94 L483.08,258.55 L482.61,260.17 L482.18,261.80 L481.80,263.44 L481.46,265.09 L481.17,266.75 L480.92,268.41 L480.71,270.08 L480.55,271.76 L480.44,273.44 L480.37,275.12 L480.35,276.80" fill="none" stroke="#92d050" stroke-width="2"/>
<path d="M635.40,276.80 L635.37,274.56 L635.28,272.32 L635.12,270.08 L634.91,267.84 L634.64,265.62 L634.31,263.40 L633.91,261.19 L633.46,258.99 L632.95,256.80 L632.38,254.62 L631.75,252.47 L631.06,250.32 L630.32,248.20 L629.51,246.10 L628.65,244.01 L627.74,241.95 L626.77,239.91 L625.74,237.90 L624.66,235.92 L623.53,233.96 L622.34,232.03 L621.10,230.14 L619.82,228.27 L618.48,226.44 L617.09,224.64 L615.65,222.88 L614.17,221.16 L612.64,219.47 L611.07,217.82 L609.45,216.22 L607.79,214.65 L606.08,213.13 L604.34,211.65 L602.56,210.21 L600.73,208.83 L598.88,207.48 L596.98,206.19 L595.05,204.94 L593.09,203.75 L591.10,202.60 L589.07,201.50 L587.02,200.46 L584.94,199.47 L582.83,198.53 L580.70,197.64 L578.55,196.81 L576.37,196.03 L574.18,195.31 L571.96,194.65 L569.73,194.04 L567.48,193.49 L565.22,192.99 L562.94,192.55 L560.66,192.17 L558.36,191.85 L556.06,191.59 L553.75,191.38 L551.43,191.24 L549.12,191.15 L546.80,191.12 L544.48,191.15 L542.16,191.24 L539.85,191.38 L537.54,191.59 L535.23,191.85 L532.94,192.17 L530.65,192.55 L528.38,192.99 L526.11,193.49 L523.87,194.04 L521.63,194.65 L519.42,195.31 L517.22,196.03 L515.05,196.81 L512.89,197.64 L510.76,198.53 L508.65,199.47 L506.57,200.46 L504.52,201.50 L502.50,202.60 L500.50,203.75 L498.54,204.94 L496.61,206.19 L494.72,207.48 L492.86,208.83 L491.04,210.21 L489.26,211.65 L487.51,213.13 L485.81,214.65 L484.15,216.22 L482.53,217.82 L480.95,219.47 L479.43,221.16 L477.94,222.88 L476.51,224.64 L475.12,226.44 L473.78,228.27 L472.49,230.14 L471.25,232.03 L470.07,233.96 L468.93,235.92 L467.85,237.90 L466.83,239.91 L465.86,241.95 L464.94,244.01 L464.08,246.10 L463.28,248.20 L462.53,250.32 L461.85,252.47 L461.22,254.62 L460.65,256.80 L460.13,258.99 L459.68,261.19 L459.29,263.40 L458.96,265.62 L458.68,267.84 L458.47,270.08 L458.32,272.32 L458.23,274.56 L458.20,276.80" fill="none" stroke="#92d050" stroke-width="2"/>
<line x1="426.08" y1="21.05" x2="399.50" y2="276.80" stroke="#4472c4" stroke-width="1.15" stroke-dasharray="4 2.6"/>
<line x1="452.66" y1="24.95" x2="399.50" y2="276.80" stroke="#4472c4" stroke-width="1.15" stroke-dasharray="4 2.6"/>
<line x1="479.24" y1="31.60" x2="399.50" y2="276.80" stroke="#4472c4" stroke-width="1.15" stroke-dasharray="4 2.6"/>
<line x1="505.82" y1="41.22" x2="399.50" y2="276.80" stroke="#4472c4" stroke-width="1.15" stroke-dasharray="4 2.6"/>
<line x1="532.40" y1="54.20" x2="399.50" y2="276.80" stroke="#4472c4" stroke-width="1.15" stroke-dasharray="4 2.6"/>
<line x1="558.98" y1="71.17" x2="399.50" y2="276.80" stroke="#4472c4" stroke-width="1.15" stroke-dasharray="4 2.6"/>
<line x1="585.56" y1="93.24" x2="399.50" y2="276.80" stroke="#4472c4" stroke-width="1.15" stroke-dasharray="4 2.6"/>
<line x1="612.14" y1="122.58" x2="399.50" y2="276.80" stroke="#4472c4" stroke-width="1.15" stroke-dasharray="4 2.6"/>
<line x1="638.72" y1="164.76" x2="399.50" y2="276.80" stroke="#4472c4" stroke-width="1.15" stroke-dasharray="4 2.6"/>
<line x1="652.01" y1="196.54" x2="399.50" y2="276.80" stroke="#4472c4" stroke-width="1.15" stroke-dasharray="4 2.6"/>
<line x1="662.64" y1="240.54" x2="399.50" y2="276.80" stroke="#4472c4" stroke-width="1.15" stroke-dasharray="4 2.6"/>
<path d="M664.50,276.80 L664.48,273.45 L664.41,270.09 L664.30,266.74 L664.14,263.39 L663.94,260.04 L663.69,256.69 L663.39,253.35 L663.05,250.01 L662.67,246.68 L662.24,243.35 L661.76,240.03 L661.24,236.71 L660.67,233.40 L660.07,230.10 L659.41,226.80 L658.71,223.52 L657.97,220.24 L657.18,216.98 L656.35,213.72 L655.47,210.47 L654.55,207.24 L653.59,204.02 L652.58,200.81 L651.53,197.61 L650.44,194.43 L649.30,191.26 L648.12,188.10 L646.90,184.96 L645.64,181.84 L644.33,178.73 L642.98,175.64 L641.59,172.57 L640.16,169.51 L638.69,166.47 L637.17,163.46 L635.62,160.46 L634.02,157.48 L632.39,154.52 L630.71,151.58 L629.00,148.67 L627.24,145.77 L625.45,142.90 L623.62,140.05 L621.75,137.23 L619.84,134.42 L617.90,131.65 L615.91,128.90 L613.89,126.17 L611.83,123.47 L609.74,120.79 L607.61,118.15 L605.45,115.52 L603.25,112.93 L601.01,110.37 L598.74,107.83 L596.44,105.32 L594.10,102.84 L591.73,100.40 L589.32,97.98 L586.89,95.59 L584.42,93.23 L581.92,90.91 L579.38,88.62 L576.82,86.36 L574.23,84.13 L571.61,81.93 L568.95,79.77 L566.27,77.64 L563.56,75.55 L560.82,73.49 L558.06,71.46 L555.26,69.47 L552.44,67.52 L549.60,65.60 L546.73,63.72 L543.83,61.87 L540.91,60.07 L537.96,58.29 L534.99,56.56 L532.00,54.86 L528.99,53.21 L525.95,51.59 L522.89,50.01 L519.81,48.46 L516.71,46.96 L513.59,45.50 L510.45,44.07 L507.29,42.69 L504.11,41.34 L500.91,40.04 L497.70,38.78 L494.47,37.55 L491.22,36.37 L487.96,35.23 L484.68,34.13 L481.39,33.07 L478.08,32.06 L474.76,31.08 L471.43,30.15 L468.09,29.26 L464.73,28.42 L461.36,27.61 L457.99,26.85 L454.60,26.13 L451.20,25.46 L447.79,24.82 L444.38,24.23 L440.96,23.69 L437.53,23.18 L434.09,22.72 L430.65,22.31 L427.20,21.93 L423.75,21.61 L420.29,21.32 L416.83,21.08 L413.37,20.88 L409.90,20.73 L406.44,20.62 L402.97,20.55 L399.50,20.53" fill="none" stroke="#4472c4" stroke-width="1.1" stroke-dasharray="3.7 2.8"/>
<path d="M488.10,276.80 L488.09,275.68 L488.07,274.56 L488.03,273.44 L487.98,272.32 L487.91,271.20 L487.83,270.08 L487.73,268.96 L487.61,267.84 L487.49,266.73 L487.34,265.62 L487.18,264.51 L487.01,263.40 L486.82,262.29 L486.62,261.19 L486.40,260.08 L486.16,258.99 L485.92,257.89 L485.65,256.80 L485.37,255.71 L485.08,254.62 L484.77,253.54 L484.45,252.47 L484.11,251.39 L483.76,250.32 L483.40,249.26 L483.02,248.20 L482.62,247.14 L482.22,246.10 L481.79,245.05 L481.36,244.01 L480.90,242.98 L480.44,241.95 L479.96,240.93 L479.47,239.91 L478.96,238.90 L478.44,237.90 L477.91,236.91 L477.36,235.92 L476.80,234.93 L476.23,233.96 L475.64,232.99 L475.04,232.03 L474.43,231.08 L473.81,230.14 L473.17,229.20 L472.52,228.27 L471.85,227.35 L471.18,226.44 L470.49,225.54 L469.79,224.64 L469.08,223.76 L468.36,222.88 L467.62,222.01 L466.87,221.16 L466.11,220.31 L465.34,219.47 L464.56,218.64 L463.77,217.82 L462.96,217.01 L462.15,216.22 L461.32,215.43 L460.49,214.65 L459.64,213.88 L458.78,213.13 L457.92,212.38 L457.04,211.65 L456.15,210.93 L455.26,210.21 L454.35,209.51 L453.44,208.83 L452.51,208.15 L451.58,207.48 L450.64,206.83 L449.68,206.19 L448.72,205.56 L447.76,204.94 L446.78,204.34 L445.79,203.75 L444.80,203.17 L443.80,202.60 L442.79,202.04 L441.78,201.50 L440.75,200.97 L439.72,200.46 L438.69,199.96 L437.64,199.47 L436.59,198.99 L435.54,198.53 L434.47,198.08 L433.41,197.64 L432.33,197.22 L431.25,196.81 L430.17,196.42 L429.08,196.03 L427.98,195.67 L426.88,195.31 L425.77,194.97 L424.66,194.65 L423.55,194.34 L422.43,194.04 L421.31,193.76 L420.18,193.49 L419.05,193.23 L417.92,192.99 L416.79,192.77 L415.65,192.55 L414.50,192.36 L413.36,192.17 L412.21,192.01 L411.06,191.85 L409.91,191.71 L408.76,191.59 L407.61,191.48 L406.45,191.38 L405.29,191.30 L404.14,191.24 L402.98,191.19 L401.82,191.15 L400.66,191.13 L399.50,191.12" fill="none" stroke="#1a1a1a" stroke-width="1.1"/>
<path d="M576.70,276.80 L576.68,274.56 L576.64,272.31 L576.56,270.07 L576.46,267.83 L576.32,265.59 L576.15,263.36 L575.96,261.12 L575.73,258.89 L575.47,256.66 L575.18,254.43 L574.87,252.21 L574.52,249.99 L574.14,247.78 L573.73,245.57 L573.30,243.37 L572.83,241.17 L572.33,238.98 L571.80,236.80 L571.25,234.62 L570.66,232.45 L570.05,230.29 L569.40,228.13 L568.73,225.98 L568.03,223.85 L567.30,221.72 L566.54,219.60 L565.75,217.49 L564.93,215.39 L564.09,213.30 L563.21,211.22 L562.31,209.16 L561.38,207.10 L560.42,205.06 L559.44,203.03 L558.43,201.01 L557.39,199.00 L556.32,197.01 L555.23,195.03 L554.11,193.07 L552.96,191.12 L551.79,189.18 L550.59,187.26 L549.36,185.36 L548.11,183.47 L546.84,181.60 L545.54,179.74 L544.21,177.90 L542.86,176.08 L541.48,174.27 L540.08,172.48 L538.66,170.71 L537.21,168.96 L535.74,167.23 L534.24,165.51 L532.73,163.81 L531.19,162.14 L529.62,160.48 L528.04,158.84 L526.43,157.23 L524.80,155.63 L523.15,154.05 L521.48,152.50 L519.78,150.97 L518.07,149.45 L516.34,147.96 L514.58,146.50 L512.81,145.05 L511.02,143.63 L509.20,142.23 L507.37,140.85 L505.52,139.50 L503.66,138.17 L501.77,136.86 L499.87,135.58 L497.95,134.32 L496.01,133.09 L494.06,131.88 L492.09,130.69 L490.10,129.53 L488.10,128.40 L486.08,127.29 L484.05,126.21 L482.01,125.15 L479.95,124.12 L477.87,123.11 L475.79,122.13 L473.69,121.18 L471.57,120.25 L469.45,119.36 L467.31,118.48 L465.16,117.64 L463.00,116.82 L460.83,116.03 L458.65,115.27 L456.46,114.53 L454.26,113.83 L452.05,113.15 L449.83,112.50 L447.60,111.87 L445.36,111.28 L443.12,110.71 L440.87,110.17 L438.61,109.67 L436.34,109.18 L434.07,108.73 L431.79,108.31 L429.51,107.92 L427.22,107.55 L424.93,107.21 L422.63,106.91 L420.33,106.63 L418.02,106.38 L415.71,106.16 L413.40,105.97 L411.09,105.81 L408.77,105.67 L406.46,105.57 L404.14,105.50 L401.82,105.45 L399.50,105.44" fill="none" stroke="#1a1a1a" stroke-width="1.1"/>
<path d="M665.30,276.80 L665.28,273.44 L665.21,270.07 L665.10,266.71 L664.94,263.35 L664.73,259.99 L664.48,256.63 L664.18,253.28 L663.84,249.93 L663.46,246.59 L663.03,243.25 L662.55,239.92 L662.03,236.59 L661.46,233.27 L660.85,229.96 L660.19,226.65 L659.49,223.36 L658.75,220.07 L657.96,216.80 L657.12,213.53 L656.24,210.27 L655.32,207.03 L654.35,203.80 L653.34,200.58 L652.29,197.37 L651.19,194.18 L650.05,191.00 L648.87,187.83 L647.65,184.69 L646.38,181.55 L645.07,178.44 L643.71,175.34 L642.32,172.25 L640.88,169.19 L639.41,166.14 L637.89,163.11 L636.33,160.11 L634.73,157.12 L633.09,154.15 L631.41,151.20 L629.69,148.28 L627.93,145.38 L626.13,142.50 L624.29,139.64 L622.42,136.81 L620.50,134.00 L618.55,131.21 L616.56,128.45 L614.54,125.72 L612.47,123.01 L610.37,120.32 L608.24,117.67 L606.07,115.04 L603.86,112.44 L601.62,109.87 L599.34,107.32 L597.03,104.81 L594.68,102.32 L592.30,99.87 L589.89,97.44 L587.45,95.05 L584.97,92.68 L582.46,90.35 L579.93,88.05 L577.35,85.78 L574.75,83.55 L572.12,81.35 L569.46,79.18 L566.77,77.04 L564.06,74.94 L561.31,72.88 L558.53,70.85 L555.73,68.85 L552.91,66.89 L550.05,64.97 L547.17,63.08 L544.27,61.23 L541.33,59.41 L538.38,57.64 L535.40,55.90 L532.40,54.20 L529.38,52.53 L526.33,50.91 L523.26,49.32 L520.17,47.78 L517.06,46.27 L513.93,44.80 L510.78,43.37 L507.61,41.98 L504.42,40.63 L501.22,39.33 L497.99,38.06 L494.75,36.83 L491.50,35.65 L488.23,34.50 L484.94,33.40 L481.64,32.34 L478.32,31.32 L474.99,30.34 L471.65,29.41 L468.29,28.52 L464.93,27.67 L461.55,26.86 L458.16,26.10 L454.76,25.38 L451.36,24.70 L447.94,24.06 L444.51,23.47 L441.08,22.92 L437.64,22.42 L434.19,21.96 L430.74,21.54 L427.28,21.17 L423.82,20.84 L420.35,20.55 L416.88,20.31 L413.41,20.11 L409.94,19.96 L406.46,19.85 L402.98,19.78 L399.50,19.76" fill="none" stroke="#1a1a1a" stroke-width="1.1"/>
<path d="M546.80,276.80 L546.78,274.94 L546.75,273.07 L546.68,271.21 L546.60,269.35 L546.48,267.48 L546.34,265.62 L546.18,263.77 L545.99,261.91 L545.78,260.06 L545.54,258.21 L545.27,256.36 L544.98,254.52 L544.67,252.68 L544.33,250.84 L543.97,249.01 L543.58,247.18 L543.17,245.36 L542.73,243.55 L542.27,241.74 L541.78,239.93 L541.27,238.14 L540.73,236.34 L540.17,234.56 L539.59,232.78 L538.98,231.01 L538.35,229.25 L537.69,227.50 L537.01,225.75 L536.31,224.02 L535.59,222.29 L534.84,220.57 L534.06,218.86 L533.27,217.16 L532.45,215.48 L531.61,213.80 L530.74,212.13 L529.86,210.48 L528.95,208.83 L528.02,207.20 L527.06,205.58 L526.09,203.97 L525.09,202.37 L524.07,200.79 L523.03,199.22 L521.97,197.66 L520.89,196.12 L519.79,194.59 L518.67,193.07 L517.52,191.57 L516.36,190.09 L515.18,188.61 L513.97,187.16 L512.75,185.72 L511.51,184.29 L510.24,182.88 L508.96,181.49 L507.66,180.11 L506.35,178.75 L505.01,177.40 L503.66,176.08 L502.28,174.77 L500.89,173.48 L499.49,172.20 L498.06,170.94 L496.62,169.71 L495.16,168.49 L493.69,167.28 L492.20,166.10 L490.69,164.94 L489.17,163.79 L487.63,162.67 L486.08,161.56 L484.51,160.48 L482.93,159.41 L481.33,158.36 L479.72,157.34 L478.10,156.33 L476.46,155.35 L474.81,154.38 L473.15,153.44 L471.47,152.52 L469.78,151.62 L468.08,150.74 L466.37,149.88 L464.65,149.05 L462.91,148.23 L461.17,147.44 L459.41,146.67 L457.64,145.92 L455.87,145.20 L454.08,144.50 L452.29,143.82 L450.48,143.16 L448.67,142.53 L446.85,141.92 L445.02,141.33 L443.18,140.76 L441.33,140.22 L439.48,139.70 L437.62,139.21 L435.76,138.74 L433.89,138.29 L432.01,137.87 L430.12,137.47 L428.24,137.09 L426.34,136.74 L424.44,136.41 L422.54,136.11 L420.64,135.83 L418.73,135.58 L416.81,135.34 L414.90,135.14 L412.98,134.95 L411.06,134.80 L409.13,134.66 L407.21,134.55 L405.28,134.47 L403.36,134.41 L401.43,134.37 L399.50,134.36" fill="none" stroke="#ff0000" stroke-width="1.1" stroke-dasharray="3.7 2.85" stroke-dashoffset="0.0"/>
<line x1="399.50" y1="277.00" x2="665.30" y2="277.00" stroke="#b8b8b8" stroke-width="1.4"/>
<line x1="399.50" y1="276.80" x2="399.50" y2="19.76" stroke="#595959" stroke-width="1.2"/>
<rect fill="#fff" x="-3.5" y="-10.5" width="49.0" height="13" transform="translate(465.2 223.6) rotate(-34)"/>
<rect fill="#fff" x="-3.5" y="-10.5" width="50.0" height="13" transform="translate(481.0 239.3) rotate(-38)"/>
<rect fill="#fff" x="-3.5" y="-10.5" width="48.2" height="13" transform="translate(495.5 253.9) rotate(-36)"/>
<rect fill="#fff" x="-3.5" y="-10.5" width="42.8" height="13" transform="translate(512.9 270.3) rotate(-38.5)"/>
<clipPath id="cr"><rect x="-3.5" y="-10.5" width="49.0" height="13" transform="translate(465.2 223.6) rotate(-34)"/><rect x="-3.5" y="-10.5" width="50.0" height="13" transform="translate(481.0 239.3) rotate(-38)"/><rect x="-3.5" y="-10.5" width="48.2" height="13" transform="translate(495.5 253.9) rotate(-36)"/><rect x="-3.5" y="-10.5" width="42.8" height="13" transform="translate(512.9 270.3) rotate(-38.5)"/></clipPath>
<g clip-path="url(#cr)">
<path d="M568.95,276.80 L568.94,276.24 L568.92,275.68 L568.88,275.12 L568.83,274.56 L568.76,274.00 L568.67,273.45 L568.58,272.90 L568.46,272.35 L568.34,271.80 L568.19,271.26 L568.04,270.72 L567.86,270.18 L567.68,269.65 L567.48,269.12 L567.26,268.60 L567.03,268.09 L566.79,267.58 L566.53,267.08 L566.26,266.58 L565.98,266.09 L565.68,265.61 L565.37,265.13 L565.05,264.67 L564.72,264.21 L564.37,263.76 L564.01,263.32 L563.64,262.89 L563.26,262.47 L562.86,262.06 L562.46,261.65 L562.04,261.26 L561.62,260.88 L561.18,260.51 L560.74,260.15 L560.28,259.81 L559.82,259.47 L559.34,259.15 L558.86,258.84 L558.37,258.54 L557.87,258.25 L557.37,257.98 L556.85,257.71 L556.33,257.47 L555.81,257.23 L555.27,257.01 L554.74,256.80 L554.19,256.61 L553.64,256.43 L553.09,256.26 L552.53,256.11 L551.97,255.97 L551.40,255.85 L550.83,255.74 L550.26,255.64 L549.69,255.56 L549.11,255.50 L548.54,255.45 L547.96,255.41 L547.38,255.39 L546.80,255.38 L546.22,255.39 L545.64,255.41 L545.06,255.45 L544.48,255.50 L543.91,255.56 L543.33,255.64 L542.76,255.74 L542.19,255.85 L541.63,255.97 L541.06,256.11 L540.51,256.26 L539.95,256.43 L539.40,256.61 L538.86,256.80 L538.32,257.01 L537.79,257.23 L537.26,257.47 L536.74,257.71 L536.23,257.98 L535.72,258.25 L535.22,258.54 L534.73,258.84 L534.25,259.15 L533.78,259.47 L533.31,259.81 L532.86,260.15 L532.41,260.51 L531.98,260.88 L531.55,261.26 L531.14,261.65 L530.73,262.06 L530.34,262.47 L529.95,262.89 L529.58,263.32 L529.22,263.76 L528.88,264.21 L528.54,264.67 L528.22,265.13 L527.91,265.61 L527.62,266.09 L527.33,266.58 L527.06,267.08 L526.81,267.58 L526.56,268.09 L526.33,268.60 L526.12,269.12 L525.92,269.65 L525.73,270.18 L525.56,270.72 L525.40,271.26 L525.26,271.80 L525.13,272.35 L525.02,272.90 L524.92,273.45 L524.84,274.00 L524.77,274.56 L524.72,275.12 L524.68,275.68 L524.66,276.24 L524.65,276.80" fill="none" stroke="#92d050" stroke-width="2"/>
<path d="M591.10,276.80 L591.08,275.68 L591.04,274.56 L590.96,273.44 L590.85,272.32 L590.72,271.21 L590.55,270.10 L590.36,268.99 L590.13,267.89 L589.87,266.80 L589.59,265.71 L589.27,264.63 L588.93,263.56 L588.56,262.50 L588.16,261.45 L587.73,260.41 L587.27,259.38 L586.78,258.36 L586.27,257.35 L585.73,256.36 L585.16,255.38 L584.57,254.42 L583.95,253.47 L583.31,252.54 L582.64,251.62 L581.94,250.72 L581.23,249.84 L580.48,248.98 L579.72,248.13 L578.93,247.31 L578.12,246.51 L577.29,245.72 L576.44,244.96 L575.57,244.22 L574.68,243.51 L573.77,242.81 L572.84,242.14 L571.89,241.49 L570.93,240.87 L569.94,240.27 L568.95,239.70 L567.94,239.15 L566.91,238.63 L565.87,238.13 L564.82,237.66 L563.75,237.22 L562.67,236.81 L561.59,236.42 L560.49,236.06 L559.38,235.72 L558.26,235.42 L557.14,235.14 L556.01,234.90 L554.87,234.68 L553.73,234.49 L552.58,234.33 L551.43,234.19 L550.27,234.09 L549.12,234.02 L547.96,233.97 L546.80,233.96 L545.64,233.97 L544.48,234.02 L543.32,234.09 L542.17,234.19 L541.02,234.33 L539.87,234.49 L538.72,234.68 L537.59,234.90 L536.46,235.14 L535.33,235.42 L534.22,235.72 L533.11,236.06 L532.01,236.42 L530.92,236.81 L529.84,237.22 L528.78,237.66 L527.73,238.13 L526.69,238.63 L525.66,239.15 L524.65,239.70 L523.65,240.27 L522.67,240.87 L521.71,241.49 L520.76,242.14 L519.83,242.81 L518.92,243.51 L518.03,244.22 L517.16,244.96 L516.30,245.72 L515.47,246.51 L514.66,247.31 L513.88,248.13 L513.11,248.98 L512.37,249.84 L511.65,250.72 L510.96,251.62 L510.29,252.54 L509.64,253.47 L509.03,254.42 L508.43,255.38 L507.87,256.36 L507.33,257.35 L506.81,258.36 L506.33,259.38 L505.87,260.41 L505.44,261.45 L505.04,262.50 L504.67,263.56 L504.32,264.63 L504.01,265.71 L503.72,266.80 L503.47,267.89 L503.24,268.99 L503.04,270.10 L502.88,271.21 L502.74,272.32 L502.63,273.44 L502.56,274.56 L502.51,275.68 L502.50,276.80" fill="none" stroke="#92d050" stroke-width="2"/>
<path d="M613.25,276.80 L613.22,275.12 L613.16,273.44 L613.04,271.76 L612.88,270.08 L612.68,268.41 L612.43,266.75 L612.13,265.09 L611.80,263.44 L611.41,261.80 L610.98,260.17 L610.51,258.55 L610.00,256.94 L609.44,255.35 L608.83,253.77 L608.19,252.21 L607.50,250.66 L606.77,249.14 L606.00,247.63 L605.19,246.14 L604.34,244.67 L603.46,243.22 L602.53,241.80 L601.56,240.40 L600.56,239.03 L599.52,237.68 L598.44,236.36 L597.33,235.07 L596.18,233.80 L595.00,232.57 L593.78,231.36 L592.54,230.19 L591.26,229.05 L589.95,227.94 L588.62,226.86 L587.25,225.82 L585.86,224.81 L584.44,223.84 L582.99,222.91 L581.52,222.01 L580.02,221.15 L578.50,220.33 L576.97,219.54 L575.40,218.80 L573.83,218.10 L572.23,217.43 L570.61,216.81 L568.98,216.23 L567.33,215.69 L565.67,215.19 L564.00,214.73 L562.31,214.32 L560.61,213.94 L558.91,213.62 L557.19,213.33 L555.47,213.09 L553.74,212.89 L552.01,212.74 L550.28,212.63 L548.54,212.56 L546.80,212.54 L545.06,212.56 L543.32,212.63 L541.58,212.74 L539.85,212.89 L538.12,213.09 L536.40,213.33 L534.69,213.62 L532.98,213.94 L531.29,214.32 L529.60,214.73 L527.92,215.19 L526.26,215.69 L524.62,216.23 L522.98,216.81 L521.37,217.43 L519.77,218.10 L518.19,218.80 L516.63,219.54 L515.09,220.33 L513.57,221.15 L512.08,222.01 L510.61,222.91 L509.16,223.84 L507.74,224.81 L506.35,225.82 L504.98,226.86 L503.64,227.94 L502.33,229.05 L501.06,230.19 L499.81,231.36 L498.60,232.57 L497.42,233.80 L496.27,235.07 L495.16,236.36 L494.08,237.68 L493.04,239.03 L492.03,240.40 L491.07,241.80 L490.14,243.22 L489.25,244.67 L488.40,246.14 L487.59,247.63 L486.82,249.14 L486.09,250.66 L485.41,252.21 L484.76,253.77 L484.16,255.35 L483.60,256.94 L483.08,258.55 L482.61,260.17 L482.18,261.80 L481.80,263.44 L481.46,265.09 L481.17,266.75 L480.92,268.41 L480.71,270.08 L480.55,271.76 L480.44,273.44 L480.37,275.12 L480.35,276.80" fill="none" stroke="#92d050" stroke-width="2"/>
<path d="M635.40,276.80 L635.37,274.56 L635.28,272.32 L635.12,270.08 L634.91,267.84 L634.64,265.62 L634.31,263.40 L633.91,261.19 L633.46,258.99 L632.95,256.80 L632.38,254.62 L631.75,252.47 L631.06,250.32 L630.32,248.20 L629.51,246.10 L628.65,244.01 L627.74,241.95 L626.77,239.91 L625.74,237.90 L624.66,235.92 L623.53,233.96 L622.34,232.03 L621.10,230.14 L619.82,228.27 L618.48,226.44 L617.09,224.64 L615.65,222.88 L614.17,221.16 L612.64,219.47 L611.07,217.82 L609.45,216.22 L607.79,214.65 L606.08,213.13 L604.34,211.65 L602.56,210.21 L600.73,208.83 L598.88,207.48 L596.98,206.19 L595.05,204.94 L593.09,203.75 L591.10,202.60 L589.07,201.50 L587.02,200.46 L584.94,199.47 L582.83,198.53 L580.70,197.64 L578.55,196.81 L576.37,196.03 L574.18,195.31 L571.96,194.65 L569.73,194.04 L567.48,193.49 L565.22,192.99 L562.94,192.55 L560.66,192.17 L558.36,191.85 L556.06,191.59 L553.75,191.38 L551.43,191.24 L549.12,191.15 L546.80,191.12 L544.48,191.15 L542.16,191.24 L539.85,191.38 L537.54,191.59 L535.23,191.85 L532.94,192.17 L530.65,192.55 L528.38,192.99 L526.11,193.49 L523.87,194.04 L521.63,194.65 L519.42,195.31 L517.22,196.03 L515.05,196.81 L512.89,197.64 L510.76,198.53 L508.65,199.47 L506.57,200.46 L504.52,201.50 L502.50,202.60 L500.50,203.75 L498.54,204.94 L496.61,206.19 L494.72,207.48 L492.86,208.83 L491.04,210.21 L489.26,211.65 L487.51,213.13 L485.81,214.65 L484.15,216.22 L482.53,217.82 L480.95,219.47 L479.43,221.16 L477.94,222.88 L476.51,224.64 L475.12,226.44 L473.78,228.27 L472.49,230.14 L471.25,232.03 L470.07,233.96 L468.93,235.92 L467.85,237.90 L466.83,239.91 L465.86,241.95 L464.94,244.01 L464.08,246.10 L463.28,248.20 L462.53,250.32 L461.85,252.47 L461.22,254.62 L460.65,256.80 L460.13,258.99 L459.68,261.19 L459.29,263.40 L458.96,265.62 L458.68,267.84 L458.47,270.08 L458.32,272.32 L458.23,274.56 L458.20,276.80" fill="none" stroke="#92d050" stroke-width="2"/>
</g>
<text transform="translate(465.2 223.6) rotate(-34)" x="0" y="0" font-family="'Liberation Sans', sans-serif" font-size="10" fill="#1a1a1a" stroke="#1a1a1a" stroke-width="0.25" textLength="42.0" lengthAdjust="spacingAndGlyphs">RMSE=20</text>
<text transform="translate(481.0 239.3) rotate(-38)" x="0" y="0" font-family="'Liberation Sans', sans-serif" font-size="10" fill="#1a1a1a" stroke="#1a1a1a" stroke-width="0.25" textLength="43.0" lengthAdjust="spacingAndGlyphs">RMSE=15</text>
<text transform="translate(495.5 253.9) rotate(-36)" x="0" y="0" font-family="'Liberation Sans', sans-serif" font-size="10" fill="#1a1a1a" stroke="#1a1a1a" stroke-width="0.25" textLength="41.2" lengthAdjust="spacingAndGlyphs">RMSE=10</text>
<text transform="translate(512.9 270.3) rotate(-38.5)" x="0" y="0" font-family="'Liberation Sans', sans-serif" font-size="10" fill="#1a1a1a" stroke="#1a1a1a" stroke-width="0.25" textLength="35.8" lengthAdjust="spacingAndGlyphs">RMSE=5</text>
<text x="427.47" y="20.36" transform="rotate(-84.07 427.47 20.36)" font-family="'Liberation Sans', sans-serif" font-size="10.5" fill="#1a1a1a" stroke="#1a1a1a" stroke-width="0.2" dy="3.7">0.10</text>
<text x="454.86" y="23.92" transform="rotate(-78.08 454.86 23.92)" font-family="'Liberation Sans', sans-serif" font-size="10.5" fill="#1a1a1a" stroke="#1a1a1a" stroke-width="0.2" dy="3.7">0.20</text>
<text x="481.03" y="29.51" transform="rotate(-71.99 481.03 29.51)" font-family="'Liberation Sans', sans-serif" font-size="10.5" fill="#1a1a1a" stroke="#1a1a1a" stroke-width="0.2" dy="3.7">0.30</text>
<text x="509.32" y="40.15" transform="rotate(-65.71 509.32 40.15)" font-family="'Liberation Sans', sans-serif" font-size="10.5" fill="#1a1a1a" stroke="#1a1a1a" stroke-width="0.2" dy="3.7">0.40</text>
<text x="535.85" y="54.01" transform="rotate(-59.16 535.85 54.01)" font-family="'Liberation Sans', sans-serif" font-size="10.5" fill="#1a1a1a" stroke="#1a1a1a" stroke-width="0.2" dy="3.7">0.50</text>
<text x="562.42" y="70.06" transform="rotate(-52.20 562.42 70.06)" font-family="'Liberation Sans', sans-serif" font-size="10.5" fill="#1a1a1a" stroke="#1a1a1a" stroke-width="0.2" dy="3.7">0.60</text>
<text x="588.46" y="90.86" transform="rotate(-44.61 588.46 90.86)" font-family="'Liberation Sans', sans-serif" font-size="10.5" fill="#1a1a1a" stroke="#1a1a1a" stroke-width="0.2" dy="3.7">0.70</text>
<text x="615.62" y="121.32" transform="rotate(-35.95 615.62 121.32)" font-family="'Liberation Sans', sans-serif" font-size="10.5" fill="#1a1a1a" stroke="#1a1a1a" stroke-width="0.2" dy="3.7">0.80</text>
<text x="641.80" y="163.56" transform="rotate(-25.10 641.80 163.56)" font-family="'Liberation Sans', sans-serif" font-size="10.5" fill="#1a1a1a" stroke="#1a1a1a" stroke-width="0.2" dy="3.7">0.90</text>
<text x="655.51" y="194.80" transform="rotate(-17.63 655.51 194.80)" font-family="'Liberation Sans', sans-serif" font-size="10.5" fill="#1a1a1a" stroke="#1a1a1a" stroke-width="0.2" dy="3.7">0.95</text>
<text x="665.45" y="239.23" transform="rotate(-7.85 665.45 239.23)" font-family="'Liberation Sans', sans-serif" font-size="10.5" fill="#1a1a1a" stroke="#1a1a1a" stroke-width="0.2" dy="3.7">0.99</text>
<text x="576.8" y="51.2" transform="rotate(37 576.8 51.2)" font-family="'Liberation Sans', sans-serif" font-size="10" fill="#1a1a1a" stroke="#1a1a1a" stroke-width="0.2" text-anchor="middle" textLength="100" lengthAdjust="spacingAndGlyphs">Correlation coefficient</text>
<text x="390.20" y="280.30" text-anchor="end" font-family="'Liberation Serif', serif" font-weight="bold" font-size="11.5" fill="#1a1a1a">0</text>
<text x="390.20" y="194.62" text-anchor="end" font-family="'Liberation Serif', serif" font-weight="bold" font-size="11.5" fill="#1a1a1a">20</text>
<text x="390.20" y="108.94" text-anchor="end" font-family="'Liberation Serif', serif" font-weight="bold" font-size="11.5" fill="#1a1a1a">40</text>
<text x="390.20" y="23.26" text-anchor="end" font-family="'Liberation Serif', serif" font-weight="bold" font-size="11.5" fill="#1a1a1a">60</text>
<text x="399.50" y="293.60" text-anchor="middle" font-family="'Liberation Serif', serif" font-weight="bold" font-size="11.5" fill="#1a1a1a">0</text>
<text x="488.10" y="293.60" text-anchor="middle" font-family="'Liberation Serif', serif" font-weight="bold" font-size="11.5" fill="#1a1a1a">20</text>
<text x="576.70" y="293.60" text-anchor="middle" font-family="'Liberation Serif', serif" font-weight="bold" font-size="11.5" fill="#1a1a1a">40</text>
<text x="665.30" y="293.60" text-anchor="middle" font-family="'Liberation Serif', serif" font-weight="bold" font-size="11.5" fill="#1a1a1a">60</text>
<text x="550.7" y="304.5" text-anchor="middle" font-family="'Liberation Serif', serif" font-weight="bold" font-size="12" fill="#000">Standard deviation (MPa)</text>
<text x="362.2" y="160.5" transform="rotate(-90 362.2 160.5)" text-anchor="middle" font-family="'Liberation Serif', serif" font-weight="bold" font-size="12" fill="#000">Standard deviation (MPa)</text>
<text x="553.9" y="328.9" text-anchor="middle" font-family="'Liberation Serif', serif" font-size="18" fill="#000">Validation</text>
<circle cx="627.00" cy="9.20" r="3.03" fill="#ff0000"/>
<text x="632.8" y="12.90" font-family="'Liberation Serif', serif" font-weight="bold" font-size="10.4" fill="#595959">Measured</text>
<circle cx="627.00" cy="24.60" r="2.60" fill="none" stroke="#ff0000" stroke-width="1.45"/>
<text x="632.8" y="28.30" font-family="'Liberation Serif', serif" font-weight="bold" font-size="10.4" fill="#595959">Kstar</text>
<path d="M623.97,36.97 L630.03,43.03 M623.97,43.03 L630.03,36.97" stroke="#ff0000" stroke-width="1.4"/>
<text x="632.8" y="43.70" font-family="'Liberation Serif', serif" font-weight="bold" font-size="10.4" fill="#595959">M5Rules</text>
<path d="M627.00,52.66 L629.74,57.73 L624.26,57.73 Z" fill="none" stroke="#ff0000" stroke-width="1.4" stroke-linejoin="miter"/>
<text x="632.8" y="59.10" font-family="'Liberation Serif', serif" font-weight="bold" font-size="10.4" fill="#595959">ElasticNet</text>
<path d="M624.34,70.80 L629.66,70.80 M627.00,68.14 L627.00,73.46" stroke="#ff0000" stroke-width="2"/>
<text x="632.8" y="74.50" font-family="'Liberation Serif', serif" font-weight="bold" font-size="10.4" fill="#595959">XNV</text>
<path d="M627.00,83.54 L629.66,86.20 L627.00,88.86 L624.34,86.20 Z" fill="none" stroke="#ff0000" stroke-width="1.3"/>
<text x="632.8" y="89.90" font-family="'Liberation Serif', serif" font-weight="bold" font-size="10.4" fill="#595959">DT</text>
<circle cx="546.90" cy="277.20" r="4.10" fill="#ff0000"/>
<circle cx="575.40" cy="254.80" r="3.10" fill="none" stroke="#ff0000" stroke-width="1.45"/>
<path d="M514.90,194.90 L523.10,203.10 M514.90,203.10 L523.10,194.90" stroke="#ff0000" stroke-width="1.4"/>
<path d="M399.80,273.10 L403.50,279.94 L396.10,279.94 Z" fill="none" stroke="#ff0000" stroke-width="1.4" stroke-linejoin="miter"/>
<path d="M514.60,202.30 L521.80,202.30 M518.20,198.70 L518.20,205.90" stroke="#ff0000" stroke-width="2"/>
<path d="M554.40,214.50 L558.00,218.10 L554.40,221.70 L550.80,218.10 Z" fill="none" stroke="#ff0000" stroke-width="1.3"/>
</svg>
</body></html>
